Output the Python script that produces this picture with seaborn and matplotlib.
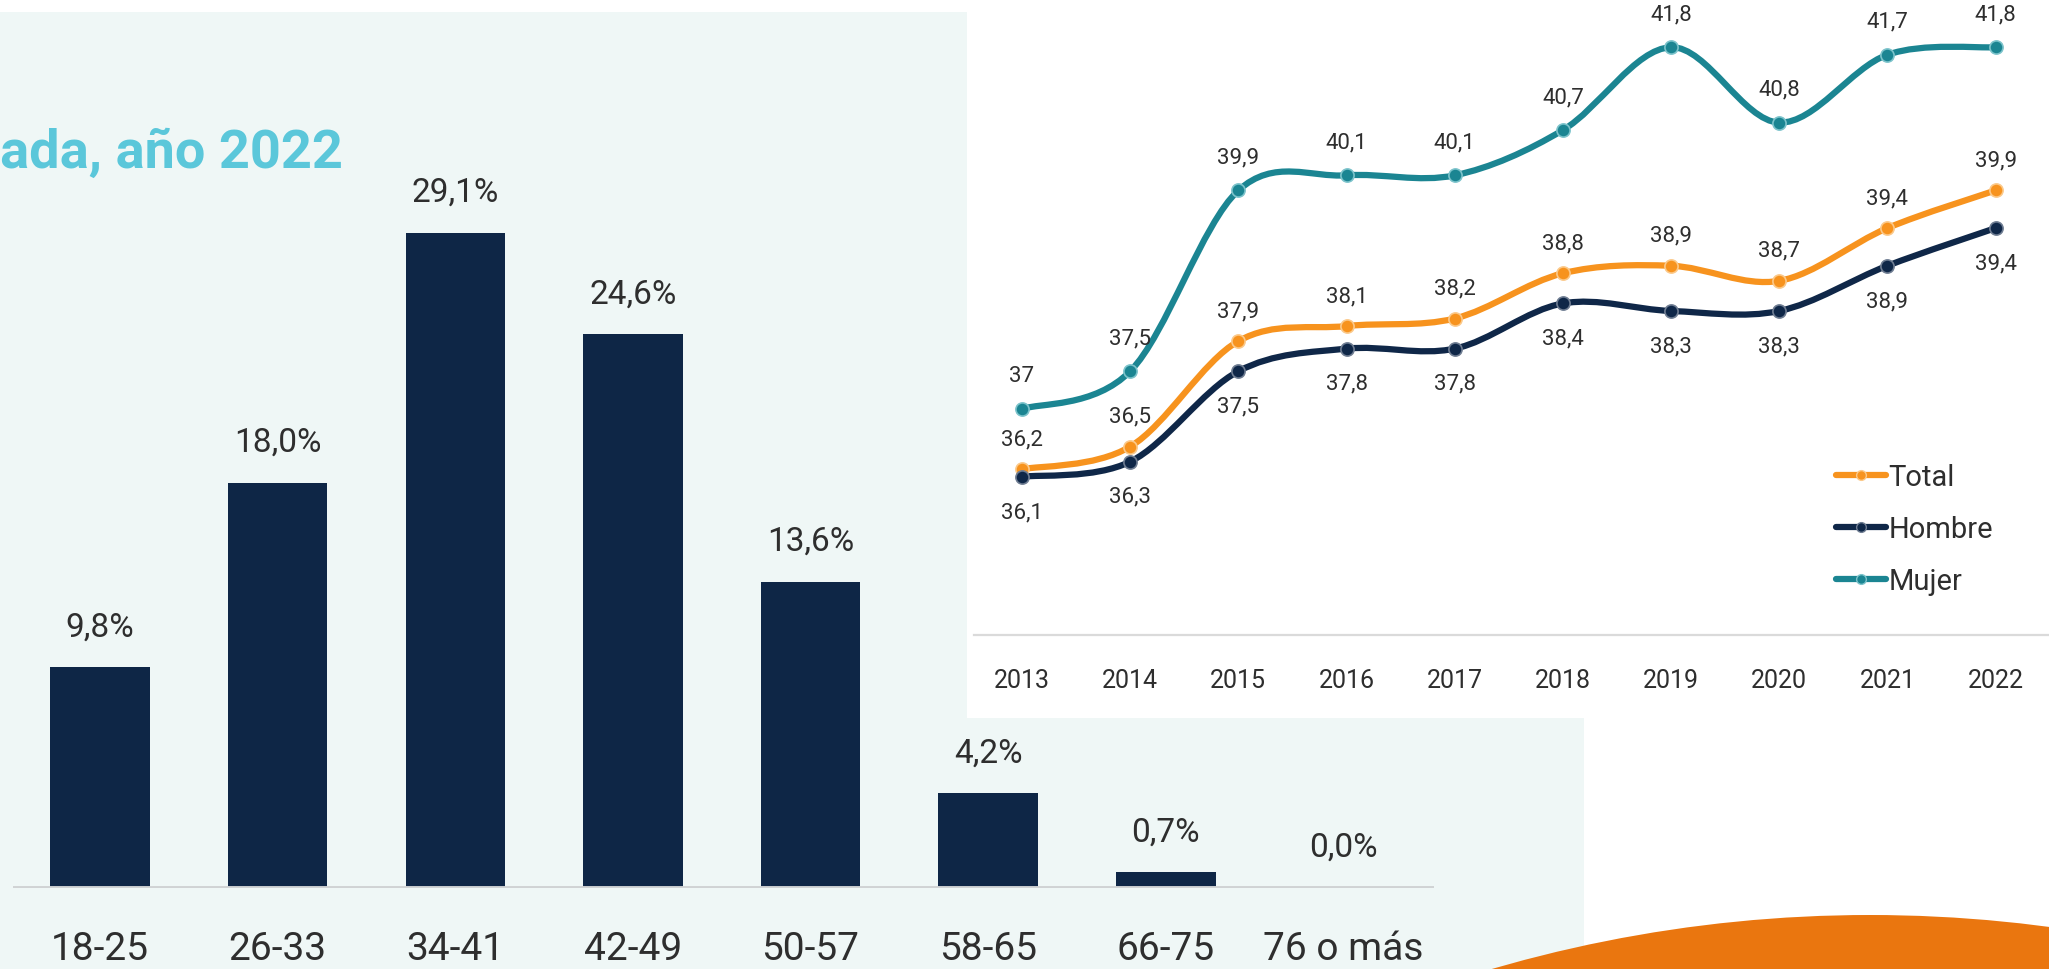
import numpy as np
import pandas as pd
import seaborn as sns
import matplotlib.pyplot as plt
from matplotlib.path import Path
from matplotlib.patches import PathPatch, Rectangle, Ellipse
from matplotlib.lines import Line2D

# bar chart data
grupos = ['18-25', '26-33', '34-41', '42-49', '50-57', '58-65', '66-75', '76 o más']
porcentajes = [9.8, 18.0, 29.1, 24.6, 13.6, 4.2, 0.7, 0.0]

# line chart data
anios = [2013, 2014, 2015, 2016, 2017, 2018, 2019, 2020, 2021, 2022]
total = [36.2, 36.5, 37.9, 38.1, 38.2, 38.8, 38.9, 38.7, 39.4, 39.9]
hombre = [36.1, 36.3, 37.5, 37.8, 37.8, 38.4, 38.3, 38.3, 38.9, 39.4]
mujer = [37.0, 37.5, 39.9, 40.1, 40.1, 40.7, 41.8, 40.8, 41.7, 41.8]

colores = {'Total': '#F7931E', 'Hombre': '#0F2748', 'Mujer': '#1B8592'}
bordes = {'Total': '#FBC98A', 'Hombre': '#6F7D92', 'Mujer': '#7CC3CB'}
desfase = {'Total': 22, 'Hombre': -25, 'Mujer': 24}

sns.set_theme(style='white')
plt.rcParams['font.family'] = ['Roboto', 'DejaVu Sans']

W, H = 2049, 970
fig = plt.figure(figsize=(W / 100, H / 100), dpi=100)
fig.patch.set_facecolor('white')

# background shapes
fig.patches.append(Rectangle((0, 0), 1584 / W, (H - 13) / H, transform=fig.transFigure,
                             facecolor='#EFF7F6', edgecolor='none', zorder=-3))
fig.patches.append(Rectangle((967 / W, (H - 719) / H), (W - 967) / W, 719 / H, transform=fig.transFigure,
                             facecolor='white', edgecolor='none', zorder=-2))
fig.patches.append(Ellipse((1870 / W, (H - 2267) / H), 2 * 1351 / W, 2 * 1351 / H, transform=fig.transFigure,
                           facecolor='#EA760F', edgecolor='none', zorder=-1))

# ---- bar chart ----
ax1 = fig.add_axes([13 / W, (H - 889) / H, 1421 / W, 876 / H])
ax1.set_facecolor('none')
df_bar = pd.DataFrame({'grupo': grupos, 'pct': porcentajes})
sns.barplot(data=df_bar, x='grupo', y='pct', color='#0E2646', width=0.56, saturation=1,
            linewidth=0, ax=ax1)
ax1.set_xlim(-0.49, 7.51)
ax1.set_ylim(0, 38.92)
ax1.axhline(0, color='#D0D3D4', lw=2.8, zorder=3)
for c in ax1.containers:
    ax1.bar_label(c, labels=[f'{v:.1f}'.replace('.', ',') + '%' for v in porcentajes],
                  padding=18, fontsize=24, color='#2E2E2E')
ax1.set_xlabel('')
ax1.set_ylabel('')
ax1.set_yticks([])
ax1.tick_params(axis='x', length=0, pad=30, labelsize=28, labelcolor='#2E2E2E')
sns.despine(ax=ax1, left=True, bottom=True)

fig.text(0, 1 - 153 / H, 'ada, año 2022', ha='left', va='center', color='#5BC7DA',
         fontsize=39, fontweight='bold')

# ---- line chart ----
ax2 = fig.add_axes([974 / W, (H - 636) / H, (W - 974) / W, 636 / H])
ax2.set_facecolor('none')
df_lin = pd.DataFrame({
    'anio': anios * 3,
    'valor': total + hombre + mujer,
    'serie': ['Total'] * 10 + ['Hombre'] * 10 + ['Mujer'] * 10,
})


def curva(xs, ys):
    # smooth curve through the points (Excel style)
    n = len(xs)
    verts = [(xs[0], ys[0])]
    codes = [Path.MOVETO]
    for i in range(n - 1):
        xa, ya = (xs[i - 1], ys[i - 1]) if i > 0 else (xs[i], ys[i])
        xd, yd = (xs[i + 2], ys[i + 2]) if i + 2 < n else (xs[i + 1], ys[i + 1])
        c1 = (xs[i] + (xs[i + 1] - xa) / 6, ys[i] + (ys[i + 1] - ya) / 6)
        c2 = (xs[i + 1] - (xd - xs[i]) / 6, ys[i + 1] - (yd - ys[i]) / 6)
        verts += [c1, c2, (xs[i + 1], ys[i + 1])]
        codes += [Path.CURVE4] * 3
    return Path(verts, codes)


for serie in ['Mujer', 'Total', 'Hombre']:
    d = df_lin[df_lin.serie == serie]
    ax2.add_patch(PathPatch(curva(d.anio.tolist(), d.valor.tolist()), facecolor='none',
                            edgecolor=colores[serie], lw=4.5, capstyle='round', zorder=2))
    sns.scatterplot(x=d.anio, y=d.valor, color=colores[serie], s=90, edgecolor=bordes[serie],
                    linewidth=1.2, zorder=3, ax=ax2, legend=False)
    for x, v in zip(d.anio, d.valor):
        ax2.annotate(f'{v:g}'.replace('.', ','), (x, v), xytext=(0, desfase[serie]),
                     textcoords='offset points', ha='center', va='center', fontsize=16,
                     color='#2E2E2E', annotation_clip=False)

ax2.set_xlim(2012.556, 2022.494)
ax2.set_ylim(34, 42.44)
ax2.set_xticks(anios)
ax2.set_xticklabels([str(a) for a in anios])
ax2.set_yticks([])
ax2.set_xlabel('')
ax2.set_ylabel('')
ax2.tick_params(axis='x', length=0, pad=24, labelsize=18, labelcolor='#2E2E2E')
sns.despine(ax=ax2, left=True)
ax2.spines['bottom'].set_color('#DADADA')
ax2.spines['bottom'].set_linewidth(1.6)

manijas = [Line2D([], [], color=colores[s], lw=4.5, marker='o', markersize=7,
                  markeredgecolor=bordes[s], markeredgewidth=1) for s in ['Total', 'Hombre', 'Mujer']]
leg = ax2.legend(manijas, ['Total', 'Hombre', 'Mujer'], loc='upper left',
                 bbox_to_anchor=(1836 / W, 1 - 464 / H), bbox_transform=fig.transFigure,
                 frameon=False, fontsize=21, handlelength=1.7, handletextpad=0.1,
                 labelspacing=0.82, borderpad=0, borderaxespad=0)
for t in leg.get_texts():
    t.set_color('#2E2E2E')

fig.savefig('out.png', dpi=100)
